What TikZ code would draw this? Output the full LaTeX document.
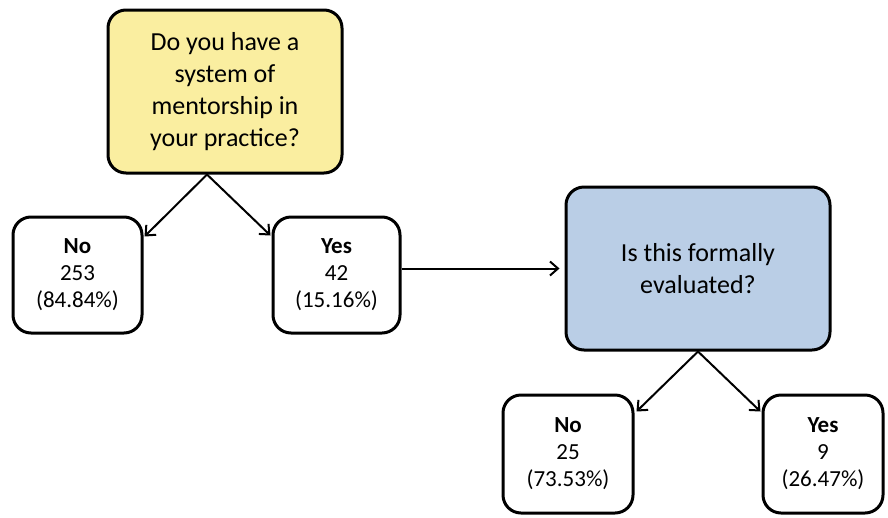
\documentclass[tikz,border=0pt]{standalone}
\usepackage{fontspec}
\setmainfont{Carlito}
\usetikzlibrary{arrows.meta,calc}
\definecolor{qyellow}{RGB}{250,238,160}
\definecolor{qblue}{RGB}{186,206,230}
\begin{document}
\begin{tikzpicture}[x=1pt,y=-1pt,
  box/.style={draw=black,line width=3pt,rounded corners=18pt,align=center,inner sep=0pt},
  bigq/.style={box,font=\fontsize{26}{32}\selectfont},
  ans/.style={box,fill=white,font=\fontsize{23}{27}\selectfont,minimum height=116pt},
  arr/.style={line width=2pt,-{Straight Barb[length=8pt,width=14pt,line width=2pt]}}]
\useasboundingbox[fill=white] (0,0) rectangle (888,517);
\node[bigq,fill=qyellow,minimum width=234pt,minimum height=163pt] (q1) at (225,91.5)
  {Do you have a\\system of\\mentorship in\\your practice?};
\node[ans,minimum width=129pt] (no1) at (77.5,275) {\textbf{No}\\253\\(84.84\%)};
\node[ans,minimum width=127pt] (yes1) at (336.5,275) {\textbf{Yes}\\42\\(15.16\%)};
\node[bigq,fill=qblue,minimum width=264pt,minimum height=163pt] (q2) at (698,268.5)
  {Is this formally\\evaluated?};
\node[ans,minimum width=130pt,minimum height=118pt] (no2) at (568,454) {\textbf{No}\\25\\(73.53\%)};
\node[ans,minimum width=120pt,minimum height=118pt] (yes2) at (823,454) {\textbf{Yes}\\9\\(26.47\%)};
\coordinate (a1) at ([xshift=-18pt]q1.south);
\draw[arr] (a1) -- ([xshift=1pt,yshift=-21pt]no1.north east);
\draw[arr] (a1) -- ([xshift=-1pt,yshift=-20pt]yes1.north west);
\draw[arr,shorten >=5pt] (yes1.east |- q2.west) -- (q2.west);
\draw[arr] (q2.south) -- ([xshift=2pt,yshift=-18pt]no2.north east);
\draw[arr] (q2.south) -- ([xshift=-1pt,yshift=-18pt]yes2.north west);
\end{tikzpicture}
\end{document}
